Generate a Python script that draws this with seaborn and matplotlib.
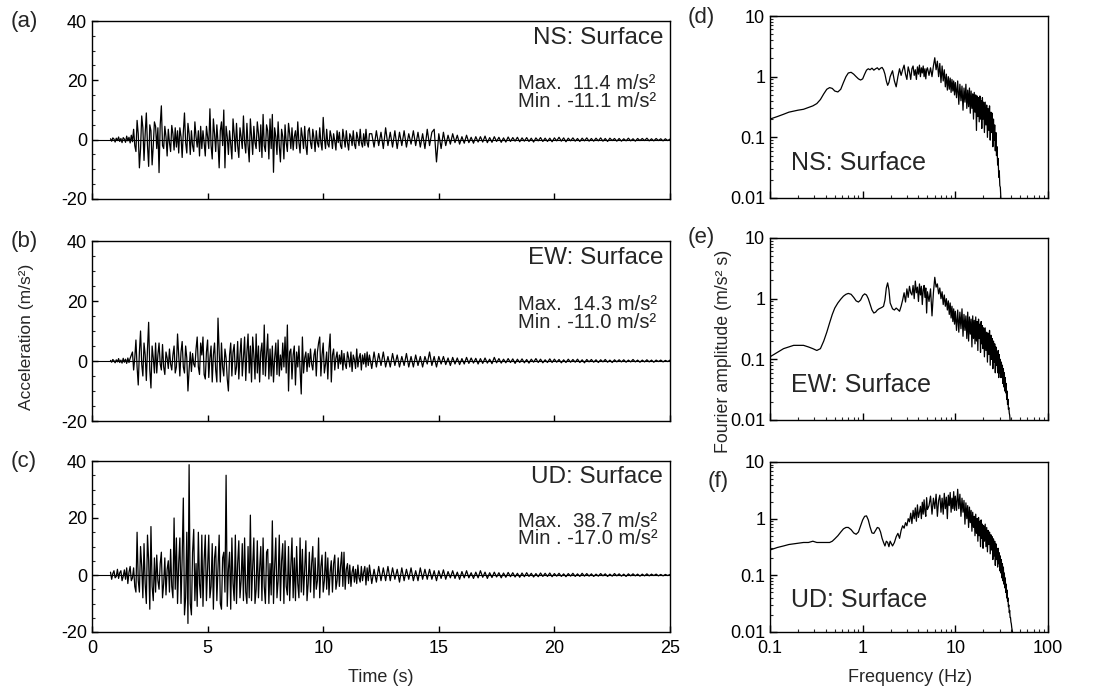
import numpy as np
import matplotlib
matplotlib.use("Agg")
import matplotlib.pyplot as plt
import matplotlib.ticker as mticker
import seaborn as sns

# ---------------- data ----------------
# strong-motion part sampled every 0.05 s from 0.8 s, coda every 0.1 s from 12.1 s
early_start_s, early_dt_s = 0.8, 0.05
late_start_s, late_dt_s = 12.1, 0.1

acc_ns_early = [
    0.3, -0.5, 0.6, 0.2, -0.8, 0.5, -0.3, 0.9, -0.6, 0.4, -1.0, 0.7, 0.2, -0.9, 1.2, -0.4, 0.8, -1.1, 1.5, -0.7,
    3.5, -2.0, -4.0, 6.5, 2.0, -9.5, -3.0, 8.0, 4.0, -7.0, 2.0, 9.0, -2.0, -9.0, 5.0, 3.0, -8.5, -2.0, 6.0, 4.5,
    -3.0, 4.0, -11.1, 5.0, 11.4, -2.0, -3.0, 4.5, 1.0, -5.5, 3.5, -1.0, -4.0, 4.8, 2.0, -3.5, 4.0, -2.5, 3.0, -4.5,
    4.0, 1.0, -6.0, 2.5, 9.0, -1.0, -4.5, 5.5, 2.0, -5.0, 3.0, -2.0, -4.0, 6.0, 1.0, -2.5, 3.0, -5.5, 4.5, -3.0,
    3.0, -1.0, -5.5, 4.5, 1.0, -3.0, 10.4, -2.0, -6.5, 7.0, 2.0, -4.0, 5.0, -1.0, -9.5, 3.0, 6.0, -2.0, 10.0, -9.5,
    4.5, 1.0, -5.0, 3.0, -1.5, -6.5, 7.0, 2.0, -4.0, 5.5, -2.0, -6.0, 4.0, 1.0, -3.0, 8.0, -1.0, -4.5, 5.5, -2.0,
    -7.5, 7.0, 1.0, -5.0, 4.5, -1.0, -3.0, 6.0, 2.0, -4.0, 5.0, -6.0, 8.5, -2.0, -4.0, 5.0, 3.0, -6.5, 7.0, -3.0,
    8.5, -11.0, 4.0, 1.0, -5.0, 6.0, -2.0, -7.5, 3.5, 1.0, -6.5, 5.0, -1.0, -4.0, 5.5, 2.0, -3.0, 4.0, -3.5, 1.0,
    3.0, -3.0, 6.0, -1.0, -4.5, 4.0, 1.0, -3.0, 4.5, -2.0, -5.0, 3.0, 4.0, -1.0, -3.0, 3.5, 0.5, -4.0, 3.0, -1.0,
    -2.5, 4.0, -1.0, -3.5, 7.5, 0.5, -3.0, 3.5, -1.5, -2.5, 3.0, 1.0, -3.0, 2.0, -0.5, -3.5, 3.0, -1.0, 2.5, -2.0,
    -3.0, 3.5, 0.5, -2.5, 3.0, -1.0, -3.5, 2.0, 1.0, -2.0, 3.0, -1.5, -3.0, 2.5, 0.5, -2.0, 3.5, -1.0, -2.5, 2.0,
    -2.0, 3.5, -1.0, -2.5, 2.0,
]
acc_ns_late = [
    2.0, -2.5, 3.0, -2.0, 2.5, -3.0, 4.0, -2.0, 2.5, -2.5,
    3.0, -3.0, 2.5, -2.0, 3.0, -2.5, 2.0, -1.5, 3.0, -2.0,
    2.5, -2.5, 2.0, -3.0, 3.5, -2.0, 2.5, 3.5, -7.5, 2.0,
    -3.0, 2.5, -2.0, 1.5, -1.5, 2.0, -1.0, 1.5, -1.5, 1.0,
    -1.2, 1.5, -1.0, 0.8, -1.2, 1.0, -0.8, 1.0, -0.8, 1.2,
    -1.0, 0.7, -0.9, 1.0, -0.6, 0.8, -0.9, 0.6, -0.8, 0.9,
    -0.6, 0.7, -0.5, 0.8, -0.7, 0.6, -0.5, 0.7, -0.6, 0.5,
    -0.8, 0.6, -0.4, 0.7, -0.6, 0.5, -0.6, 0.5, -0.7, 0.6,
    -0.4, 0.8, -0.5, 0.6, -0.7, 0.5, -0.4, 0.6, -0.5, 0.4,
    -0.6, 0.5, -0.4, 0.6, -0.5, 0.4, -0.5, 0.5, -0.4, 0.6,
    -0.5, 0.4, -0.6, 0.5, -0.3, 0.4, -0.5, 0.4, -0.5, 0.3,
    -0.4, 0.5, -0.4, 0.3, -0.5, 0.4, -0.3, 0.4, -0.3, 0.5,
    -0.4, 0.3, -0.4, 0.4, -0.3, 0.3, -0.4, 0.3, -0.3, 0.2,
]

acc_ew_early = [
    0.2, -0.4, 0.5, 0.1, -0.6, 0.4, -0.3, 0.8, -0.5, 0.3, -0.7, 0.9, -0.4, 0.6, -0.8, 1.0, -0.5, 0.9, 2.0, 3.0,
    -3.0, 1.0, 7.0, -2.0, -8.0, 3.0, 10.0, -1.0, -5.0, 6.0, 2.0, -6.5, 4.0, 12.9, -3.0, -9.0, 5.0, 1.0, -4.0, 6.0,
    -4.0, 2.0, 6.0, -1.0, -3.0, 5.5, -2.0, -4.5, 3.0, 1.0, -2.5, 4.0, -1.0, -3.0, 2.0, 5.0, -4.0, -2.0, 9.0, 2.0,
    -5.0, 3.0, 6.5, -2.0, -4.0, 5.0, 1.0, -10.0, -3.0, 3.0, -3.5, 2.5, -1.0, -2.0, 4.0, 8.0, -2.0, -4.5, 6.0, 2.0,
    8.0, -4.5, -6.0, 3.0, 7.0, -5.5, 1.0, 5.0, -7.0, 2.0, 6.0, -3.0, -7.0, 14.3, 3.0, -7.0, 6.0, -2.0, -5.0, 4.0,
    1.0, -6.0, -10.0, 2.0, 6.0, -5.0, 3.0, 5.5, -4.5, -2.0, 6.5, -6.0, 2.0, 7.5, -5.0, 1.0, 8.0, -6.5, 3.0, 9.0,
    -4.0, 5.0, -7.0, 8.0, 2.0, -6.0, 9.0, -4.0, 5.0, -7.0, 3.0, 6.0, -4.5, 12.0, -5.0, 2.0, 9.0, -6.0, 4.0, -5.0,
    5.0, -7.0, 1.0, 6.0, -4.5, 7.0, -5.0, 2.0, -3.0, 6.0, -2.0, 8.0, -4.0, 12.0, -10.0, 3.0, 4.0, -6.0, 2.0, 5.0,
    -8.0, 3.0, -2.0, 5.0, -3.0, -11.0, 8.0, -4.0, 1.0, 3.0, -3.5, 2.5, -2.0, 4.0, -1.0, -3.0, 2.0, 4.0, -5.0, 3.0,
    6.0, 8.0, -5.0, 2.0, 6.0, -4.0, -1.0, 3.0, -6.0, 4.0, 9.0, -7.0, 2.0, 4.0, -3.0, 1.0, 3.0, -2.5, 2.0, -1.0,
    3.5, -3.0, 2.5, -1.0, -2.5, 3.0, 1.0, -2.0, 3.0, -3.5, 2.0, 0.5, -2.5, 4.0, -2.0, 1.0, 2.5, -3.0, 2.0, -1.0,
    2.5, -2.0, 3.0, -1.5, 2.0,
]
acc_ew_late = [
    -2.5, 3.0, -2.0, 2.5, -1.5, 3.0, -2.0, 1.5, -2.0, 2.5,
    -1.5, 2.0, -2.0, 1.5, -1.5, 2.5, -2.0, 1.5, -2.0, 2.0,
    -1.5, 1.5, -2.0, 1.5, -1.0, 3.0, -1.5, 1.5, -2.0, 1.5,
    -1.0, 1.5, -1.2, 1.0, -1.5, 1.2, -1.0, 1.0, -1.2, 0.8,
    -1.0, 1.2, -0.8, 1.0, -0.7, 0.9, -1.0, 0.8, -0.8, 1.0,
    -0.7, 0.6, -0.9, 1.2, -0.6, 0.8, -0.7, 0.6, -0.6, 0.8,
    -0.5, 0.7, -0.8, 0.6, -0.5, 0.7, -0.6, 0.5, -0.7, 0.6,
    -0.4, 0.8, -0.5, 0.6, -0.6, 0.4, -0.5, 0.7, -0.5, 0.6,
    -0.4, 0.5, -0.6, 0.4, -0.5, 0.6, -0.4, 0.5, -0.4, 0.6,
    -0.5, 0.4, -0.6, 0.5, -0.3, 0.5, -0.4, 0.4, -0.5, 0.4,
    -0.3, 0.5, -0.4, 0.3, -0.5, 0.4, -0.3, 0.4, -0.3, 0.4,
    -0.4, 0.3, -0.3, 0.5, -0.3, 0.3, -0.4, 0.3, -0.3, 0.4,
    -0.3, 0.3, -0.4, 0.3, -0.2, 0.3, -0.3, 0.2, -0.2, 0.3,
]

acc_ud_early = [
    1.0, -1.5, 0.5, 1.5, -1.0, -0.5, 2.0, -1.2, 0.8, 1.5, -2.0, -0.5, 1.8, -1.5, 2.5, -3.0, 1.0, 3.0, -2.0, -1.0,
    2.5, -4.0, -6.0, 15.0, -2.0, -6.0, 10.0, 3.0, -8.0, 11.0, -3.0, -10.0, 14.0, 5.0, -12.0, 17.0, -4.0, -9.0, 6.0, -6.0,
    7.0, -2.0, -5.0, 4.0, 8.0, -8.0, -3.0, 6.0, -7.0, 2.0, 5.0, -6.0, 9.0, -4.0, -8.0, 20.0, -5.0, 13.0, -10.0, 4.0,
    13.0, -10.0, 6.0, 27.0, -14.0, -8.0, 15.0, -17.0, 38.7, -10.0, -14.0, 8.0, 16.0, -9.0, 4.0, -11.0, 15.0, -3.0, -8.0, 14.0,
    -11.0, 5.0, 14.0, -9.0, 2.0, 14.0, -8.0, -4.0, 11.0, -12.0, 6.0, 10.0, -9.0, 3.0, 14.0, -10.0, -12.0, 6.0, 8.0, -6.0,
    35.0, -11.0, 2.0, 8.0, -12.0, 13.0, -3.0, -9.0, 14.0, -10.0, 4.0, 12.0, -8.0, -2.0, 11.0, -9.0, 13.0, -6.0, -10.0, 10.0,
    -8.0, 21.0, -9.0, 3.0, 13.0, -10.0, -5.0, 12.0, -8.0, 2.0, 10.0, -9.0, 13.0, -4.0, -10.0, 8.0, 9.0, -10.0, 4.0, -7.0,
    19.0, -10.0, 3.0, 13.0, -8.0, -2.0, 14.0, -9.0, 5.0, 11.0, -10.0, 12.0, -4.0, -7.0, 10.0, -9.0, 3.0, 13.0, -8.0, 6.0,
    -9.0, 10.0, -3.0, -8.0, 13.0, -6.0, 9.0, -7.0, 2.0, 12.0, -9.0, -3.0, 8.0, -6.0, 4.0, 10.0, -8.0, 6.0, -5.0, -2.0,
    13.0, -8.0, 3.0, 7.0, -6.0, -2.0, 8.0, -5.0, 6.0, -7.0, 1.0, 5.0, -6.0, 4.0, 7.0, -5.0, -2.0, 6.0, -4.0, 3.0,
    8.0, -4.0, 8.0, -5.0, 2.0, 4.0, -3.0, 3.5, -4.0, 1.0, 3.0, -2.5, 2.0, -3.0, 3.5, -1.0, -2.5, 3.0, -2.0, 1.0,
    3.0, -3.5, 2.5, -2.0, 3.5,
]
acc_ud_late = [
    -3.0, 2.0, -2.5, 3.0, -2.0, 2.5, -2.0, 3.0, -2.0, 2.5,
    -1.5, 2.0, -2.5, 2.5, -2.0, 2.0, -1.5, 2.5, -2.0, 1.5,
    -2.0, 2.5, -1.5, 2.0, -1.5, 2.0, -1.5, 1.5, -2.0, 1.5,
    -1.2, 1.8, -1.5, 1.2, -1.0, 1.5, -1.2, 1.0, -1.5, 1.2,
    -1.0, 1.5, -1.0, 0.8, -1.2, 1.0, -1.0, 1.5, -0.8, 1.0,
    -1.2, 0.8, -0.9, 1.0, -0.7, 0.8, -1.0, 0.7, -0.8, 0.9,
    -0.6, 0.8, -0.7, 0.6, -0.8, 0.7, -0.6, 0.8, -0.5, 0.6,
    -0.7, 0.5, -0.6, 0.7, -0.5, 0.6, -0.5, 0.7, -0.6, 0.5,
    -0.4, 0.6, -0.5, 0.4, -0.6, 0.5, -0.4, 0.6, -0.5, 0.4,
    -0.5, 0.6, -0.4, 0.5, -0.4, 0.4, -0.5, 0.3, -0.4, 0.5,
    -0.3, 0.4, -0.5, 0.3, -0.4, 0.5, -0.3, 0.4, -0.4, 0.3,
    -0.5, 0.4, -0.3, 0.4, -0.3, 0.3, -0.4, 0.3, -0.3, 0.4,
    -0.3, 0.3, -0.2, 0.3, -0.3, 0.2, -0.3, 0.2, -0.2, 0.2,
]

freq_hz = [
    0.10, 0.12, 0.14, 0.16, 0.18, 0.20, 0.23, 0.26, 0.29, 0.32,
    0.35, 0.38, 0.41, 0.44, 0.47, 0.50, 0.54, 0.58, 0.62, 0.66,
    0.70, 0.75, 0.80, 0.85, 0.90, 0.95, 1.00, 1.05, 1.10, 1.15,
    1.20, 1.26, 1.32, 1.38, 1.44, 1.50, 1.56, 1.62, 1.68, 1.74,
    1.80, 1.86, 1.92, 1.98,
    2.1, 2.2, 2.3, 2.4, 2.5, 2.6, 2.7, 2.8, 2.9, 3.0,
    3.1, 3.2, 3.3, 3.4, 3.5, 3.6, 3.7, 3.8, 3.9, 4.0,
    4.1, 4.2, 4.3, 4.4, 4.5, 4.6, 4.7, 4.8, 4.9, 5.0,
    5.2, 5.4, 5.6, 5.8, 6.0, 6.2, 6.4, 6.6, 6.8, 7.0,
    7.2, 7.4, 7.6, 7.8, 8.0, 8.2, 8.4, 8.6, 8.8, 9.0,
    9.2, 9.4, 9.6, 9.8, 10.0,
    10.3, 10.6, 10.9, 11.2, 11.5, 11.8, 12.1, 12.4, 12.7, 13.0,
    13.3, 13.6, 13.9, 14.2, 14.5, 14.8, 15.1, 15.4, 15.7, 16.0,
    16.3, 16.6, 16.9, 17.2, 17.5, 17.8, 18.1, 18.4, 18.7, 19.0,
    19.3, 19.6, 19.9, 20.2,
    20.6, 21.0, 21.4, 21.8, 22.2, 22.6, 23.0, 23.4, 23.8, 24.2,
    24.6, 25.0, 25.4, 25.8, 26.2, 26.6, 27.0, 27.4, 27.8, 28.2,
    28.6, 29.0, 29.4, 29.8, 30.2, 30.6, 31.0, 31.4, 31.8, 32.2,
    32.6, 33.0, 33.4, 33.8, 34.2, 34.6, 35.0, 35.4, 35.8, 36.2,
    36.6, 37.0, 37.4, 37.8, 38.2, 38.6, 39.0, 39.4, 39.8, 40.2,
    40.6, 41.0, 41.4, 41.8, 42.2, 42.6, 43.0, 43.4, 43.8, 44.2, 44.6,
]

fa_ns = [
    0.20, 0.22, 0.24, 0.26, 0.27, 0.28, 0.29, 0.31, 0.33, 0.36,
    0.42, 0.52, 0.62, 0.66, 0.64, 0.58, 0.56, 0.62, 0.80, 1.00,
    1.15, 1.18, 1.10, 1.00, 0.92, 0.88, 0.92, 1.10, 1.28, 1.35,
    1.30, 1.38, 1.28, 1.35, 1.40, 1.30, 1.38, 1.42, 1.30, 1.10,
    0.85, 0.72, 0.80, 1.00,
    1.25, 0.85, 0.68, 1.00, 1.35, 1.05, 1.30, 1.55, 1.10, 0.90,
    1.45, 1.20, 0.90, 1.35, 1.50, 1.05, 1.30, 0.90, 1.45, 1.10,
    1.55, 1.00, 1.40, 1.15, 1.50, 1.00, 1.35, 0.92, 1.30, 1.40,
    1.05, 1.40, 1.00, 1.50, 2.05, 1.30, 1.80, 1.00, 1.65, 0.80,
    1.50, 0.85, 1.30, 0.68, 1.10, 0.60, 1.00, 0.62, 0.95, 0.55,
    0.90, 0.58, 0.85, 0.50, 0.80,
    0.45, 0.85, 0.35, 0.75, 0.40, 0.70, 0.28, 0.65, 0.38, 0.75,
    0.30, 0.60, 0.32, 0.65, 0.25, 0.58, 0.30, 0.52, 0.20, 0.55,
    0.26, 0.50, 0.13, 0.48, 0.22, 0.45, 0.18, 0.48, 0.20, 0.40,
    0.14, 0.45, 0.20, 0.38,
    0.12, 0.38, 0.16, 0.34, 0.10, 0.30, 0.13, 0.33, 0.09, 0.26,
    0.12, 0.25, 0.07, 0.20, 0.09, 0.16, 0.06, 0.12, 0.05, 0.07,
    0.035, 0.045, 0.022, 0.028, 0.016, 0.015, 0.010, 0.008, 0.006, 0.005,
    0.004, 0.004, 0.004, 0.004, 0.004, 0.004, 0.004, 0.004, 0.004, 0.004,
    0.004, 0.004, 0.004, 0.004, 0.004, 0.004, 0.004, 0.004, 0.004, 0.004,
    0.004, 0.004, 0.004, 0.004, 0.004, 0.004, 0.004, 0.004, 0.004, 0.004, 0.004,
]

fa_ew = [
    0.11, 0.13, 0.15, 0.16, 0.17, 0.17, 0.17, 0.16, 0.15, 0.14,
    0.15, 0.20, 0.28, 0.40, 0.55, 0.70, 0.85, 0.98, 1.10, 1.18,
    1.22, 1.18, 1.05, 0.92, 0.88, 0.95, 1.12, 1.20, 1.15, 1.00,
    0.82, 0.65, 0.58, 0.60, 0.65, 0.68, 0.70, 0.72, 0.75, 0.95,
    1.50, 1.82, 1.40, 0.85,
    0.68, 0.65, 0.70, 0.66, 0.62, 0.75, 0.95, 1.25, 0.88, 1.45,
    1.05, 1.60, 1.25, 1.15, 1.65, 1.00, 1.95, 1.25, 1.55, 0.90,
    1.75, 1.15, 1.60, 0.80, 1.40, 1.65, 1.05, 1.50, 0.58, 1.30,
    0.90, 1.45, 0.52, 1.25, 2.25, 1.55, 1.75, 1.20, 1.50, 1.00,
    1.30, 0.80, 1.15, 0.75, 1.00, 0.65, 0.92, 0.55, 0.85, 0.48,
    0.75, 0.42, 0.68, 0.38, 0.62,
    0.30, 0.65, 0.28, 0.60, 0.32, 0.68, 0.24, 0.55, 0.30, 0.52,
    0.22, 0.60, 0.20, 0.50, 0.26, 0.46, 0.16, 0.52, 0.22, 0.44,
    0.18, 0.50, 0.20, 0.42, 0.14, 0.46, 0.22, 0.38, 0.13, 0.42,
    0.18, 0.36, 0.15, 0.33,
    0.11, 0.33, 0.14, 0.28, 0.09, 0.27, 0.12, 0.30, 0.08, 0.25,
    0.10, 0.22, 0.07, 0.20, 0.09, 0.18, 0.06, 0.16, 0.08, 0.13,
    0.06, 0.14, 0.05, 0.12, 0.06, 0.10, 0.05, 0.09, 0.05, 0.08,
    0.04, 0.07, 0.035, 0.06, 0.03, 0.05, 0.028, 0.04, 0.022, 0.03,
    0.018, 0.022, 0.015, 0.016, 0.013, 0.012, 0.010, 0.008, 0.006, 0.005,
    0.004, 0.004, 0.004, 0.004, 0.004, 0.004, 0.004, 0.004, 0.004, 0.004, 0.004,
]

fa_ud = [
    0.28, 0.31, 0.33, 0.35, 0.36, 0.37, 0.38, 0.38, 0.40, 0.38,
    0.38, 0.38, 0.38, 0.38, 0.40, 0.44, 0.50, 0.58, 0.66, 0.70,
    0.70, 0.64, 0.56, 0.53, 0.58, 0.75, 0.95, 1.10, 1.12, 0.95,
    0.72, 0.56, 0.55, 0.62, 0.70, 0.68, 0.58, 0.45, 0.38, 0.33,
    0.40, 0.38, 0.32, 0.40,
    0.33, 0.38, 0.48, 0.55, 0.45, 0.62, 0.75, 0.68, 0.85, 0.75,
    1.00, 0.88, 1.25, 0.82, 1.40, 1.00, 1.55, 0.90, 1.75, 1.05,
    1.30, 1.65, 1.00, 1.95, 1.20, 2.15, 1.35, 1.10, 2.35, 1.45,
    1.70, 2.50, 1.20, 2.30, 1.50, 2.70, 1.10, 2.10, 2.60, 1.30,
    2.30, 1.20, 2.80, 1.50, 2.40, 1.00, 2.60, 1.70, 2.90, 1.30,
    2.30, 1.50, 3.00, 1.40, 2.50,
    1.40, 3.30, 1.50, 2.70, 1.10, 2.30, 1.30, 2.10, 0.80, 1.90,
    1.00, 1.70, 0.70, 1.60, 0.85, 1.40, 0.60, 1.30, 0.70, 1.10,
    0.50, 1.20, 0.55, 1.00, 0.40, 1.05, 0.50, 0.90, 0.32, 0.95,
    0.45, 0.80, 0.30, 0.75,
    0.40, 0.80, 0.32, 0.70, 0.26, 0.62, 0.35, 0.58, 0.24, 0.52,
    0.28, 0.48, 0.19, 0.44, 0.22, 0.40, 0.15, 0.36, 0.19, 0.30,
    0.14, 0.30, 0.16, 0.25, 0.12, 0.22, 0.11, 0.19, 0.09, 0.16,
    0.08, 0.14, 0.07, 0.11, 0.06, 0.09, 0.05, 0.07, 0.04, 0.055,
    0.035, 0.04, 0.028, 0.03, 0.022, 0.024, 0.018, 0.018, 0.015, 0.014,
    0.012, 0.011, 0.010, 0.009, 0.007, 0.006, 0.005, 0.004, 0.004, 0.004, 0.004,
]

components = ["NS", "EW", "UD"]
acc_early = [acc_ns_early, acc_ew_early, acc_ud_early]
acc_late = [acc_ns_late, acc_ew_late, acc_ud_late]
fa_series = [fa_ns, fa_ew, fa_ud]
max_labels = ["Max.  11.4 m/s²", "Max.  14.3 m/s²", "Max.  38.7 m/s²"]
min_labels = ["Min . -11.1 m/s²", "Min . -11.0 m/s²", "Min . -17.0 m/s²"]
time_ticks = [0, 5, 10, 15, 20, 25]
acc_ticks = [-20, 0, 20, 40]
freq_ticks = [0.1, 1, 10, 100]
freq_ticklabels = ["0.1", "1", "10", "100"]
amp_ticks = [0.01, 0.1, 1, 10]
amp_ticklabels = ["0.01", "0.1", "1", "10"]

# ---------------- style ----------------
sns.set_theme(style="ticks")
plt.rcParams["font.family"] = ["Liberation Sans", "DejaVu Sans"]
plt.rcParams["axes.unicode_minus"] = False
plt.rcParams["axes.linewidth"] = 1.0
plt.rcParams["xtick.direction"] = "in"
plt.rcParams["ytick.direction"] = "in"

W, H = 1098, 689
fig = plt.figure(figsize=(W / 100, H / 100), dpi=100)


def rect(x0, y0, x1, y1):
    return [x0 / W, 1 - y1 / H, (x1 - x0) / W, (y1 - y0) / H]


left_boxes = [rect(92, 21, 670, 199), rect(92, 241, 670, 421), rect(92, 461, 670, 632)]
right_boxes = [rect(770, 16, 1048, 198), rect(770, 238, 1048, 420), rect(770, 462, 1048, 632)]

TICK_FS = 13
for i in range(3):
    # ---- acceleration time history ----
    ax = fig.add_axes(left_boxes[i])
    e = np.asarray(acc_early[i], dtype=float)
    l = np.asarray(acc_late[i], dtype=float)
    t = np.concatenate([early_start_s + early_dt_s * np.arange(len(e)),
                        late_start_s + late_dt_s * np.arange(len(l))])
    vals = np.concatenate([e, l])
    ax.axhline(0, color="black", lw=0.8, zorder=1)
    sns.lineplot(x=t, y=vals, ax=ax, color="black", linewidth=0.9,
                 estimator=None, sort=False, zorder=2)
    ax.set_xlim(0, 25)
    ax.set_ylim(-20, 40)
    ax.set_yticks(acc_ticks)
    ax.yaxis.set_minor_locator(mticker.MultipleLocator(5))
    ax.set_xticks(time_ticks)
    ax.tick_params(axis="both", which="major", length=4, width=1.0,
                   labelsize=TICK_FS, colors="black")
    ax.tick_params(axis="y", which="minor", length=2.5, width=0.8)
    ax.tick_params(axis="x", pad=6)
    if i < 2:
        ax.tick_params(axis="x", labelbottom=False)
    ax.set_xlabel("")
    ax.set_ylabel("")
    for s in ax.spines.values():
        s.set_color("black")
        s.set_linewidth(1.0)
    ax.text(0.988, 0.905, f"{components[i]}: Surface", transform=ax.transAxes,
            ha="right", va="center", fontsize=17.5)
    ax.text(0.737, 0.648, max_labels[i], transform=ax.transAxes,
            ha="left", va="center", fontsize=14.5)
    ax.text(0.737, 0.545, min_labels[i], transform=ax.transAxes,
            ha="left", va="center", fontsize=14.5)

    # ---- Fourier spectrum ----
    bx = fig.add_axes(right_boxes[i])
    amps = np.asarray(fa_series[i], dtype=float)
    fr = np.asarray(freq_hz, dtype=float)
    n = min(len(amps), len(fr))
    sns.lineplot(x=fr[:n], y=amps[:n], ax=bx, color="black", linewidth=0.9,
                 estimator=None, sort=False)
    bx.set_xscale("log")
    bx.set_yscale("log")
    bx.set_xlim(0.1, 100)
    bx.set_ylim(0.01, 10)
    bx.xaxis.set_major_locator(mticker.FixedLocator(freq_ticks))
    bx.xaxis.set_major_formatter(mticker.FixedFormatter(freq_ticklabels))
    bx.yaxis.set_major_locator(mticker.FixedLocator(amp_ticks))
    bx.yaxis.set_major_formatter(mticker.FixedFormatter(amp_ticklabels))
    bx.xaxis.set_minor_locator(mticker.LogLocator(base=10, subs=np.arange(2, 10)))
    bx.yaxis.set_minor_locator(mticker.LogLocator(base=10, subs=np.arange(2, 10)))
    bx.xaxis.set_minor_formatter(mticker.NullFormatter())
    bx.yaxis.set_minor_formatter(mticker.NullFormatter())
    bx.tick_params(axis="both", which="major", length=5, width=1.0,
                   labelsize=TICK_FS, colors="black")
    bx.tick_params(axis="both", which="minor", length=2.5, width=0.8)
    bx.tick_params(axis="x", pad=6)
    if i < 2:
        bx.tick_params(axis="x", labelbottom=False)
    bx.set_xlabel("")
    bx.set_ylabel("")
    for s in bx.spines.values():
        s.set_color("black")
        s.set_linewidth(1.0)
    bx.text(0.075, 0.19, f"{components[i]}: Surface", transform=bx.transAxes,
            ha="left", va="center", fontsize=18)

# panel letters
fig.text(24 / W, 1 - 21 / H, "(a)", ha="center", va="center", fontsize=16)
fig.text(24 / W, 1 - 241 / H, "(b)", ha="center", va="center", fontsize=16)
fig.text(24 / W, 1 - 461 / H, "(c)", ha="center", va="center", fontsize=16)
fig.text(701 / W, 1 - 17 / H, "(d)", ha="center", va="center", fontsize=16)
fig.text(701 / W, 1 - 238 / H, "(e)", ha="center", va="center", fontsize=16)
fig.text(718 / W, 1 - 481 / H, "(f)", ha="center", va="center", fontsize=16)

# axis labels
fig.text(27 / W, 1 - 337 / H, "Acceleration (m/s²)", rotation=90,
         ha="center", va="center", fontsize=12.5)
fig.text(723 / W, 1 - 351 / H, "Fourier amplitude (m/s² s)", rotation=90,
         ha="center", va="center", fontsize=12.8)
fig.text(381 / W, 1 - 677 / H, "Time (s)", ha="center", va="center", fontsize=13)
fig.text(910 / W, 1 - 677 / H, "Frequency (Hz)", ha="center", va="center", fontsize=13)

fig.savefig("out.png", dpi=100, facecolor="white")
